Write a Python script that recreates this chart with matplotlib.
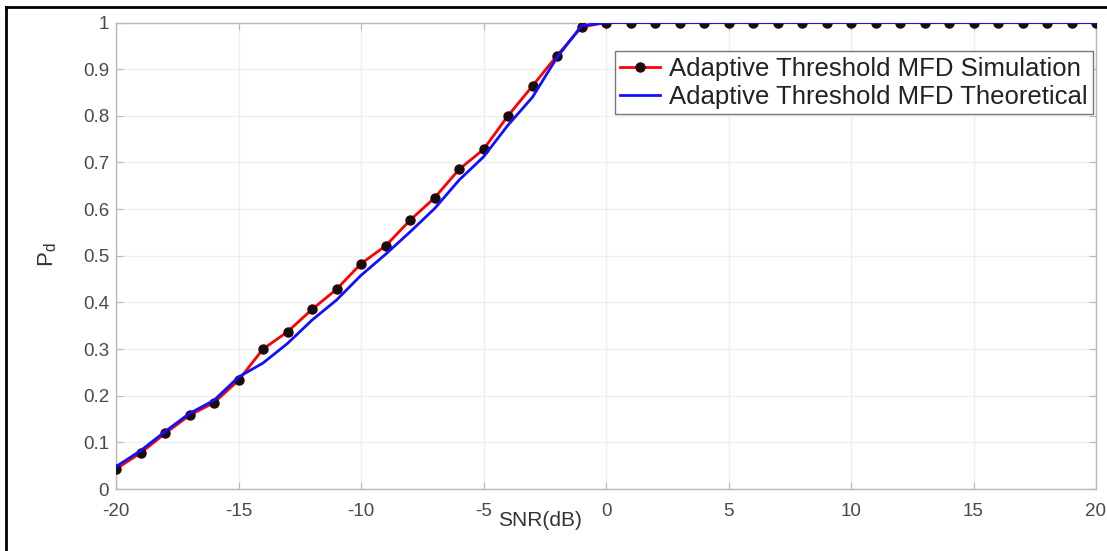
import matplotlib
matplotlib.use("Agg")
import matplotlib.pyplot as plt
from matplotlib.lines import Line2D
import numpy as np

plt.rcParams['font.family'] = ['Liberation Sans', 'DejaVu Sans']
plt.rcParams['mathtext.fontset'] = 'custom'
plt.rcParams['mathtext.rm'] = 'Liberation Sans'
plt.rcParams['mathtext.it'] = 'Liberation Sans:italic'

snr_db = list(range(-20, 21))
pd_simulation = [0.043, 0.077, 0.119, 0.158, 0.185, 0.233, 0.300, 0.337, 0.385, 0.428,
                 0.483, 0.521, 0.576, 0.624, 0.685, 0.728, 0.800, 0.864, 0.929, 0.990,
                 1.0, 1.0, 1.0, 1.0, 1.0, 1.0, 1.0, 1.0, 1.0, 1.0,
                 1.0, 1.0, 1.0, 1.0, 1.0, 1.0, 1.0, 1.0, 1.0, 1.0, 1.0]
pd_theoretical = [0.048, 0.082, 0.123, 0.162, 0.190, 0.240, 0.270, 0.312, 0.362, 0.405,
                  0.458, 0.503, 0.551, 0.601, 0.662, 0.712, 0.780, 0.840, 0.925, 0.993,
                  1.0, 1.0, 1.0, 1.0, 1.0, 1.0, 1.0, 1.0, 1.0, 1.0,
                  1.0, 1.0, 1.0, 1.0, 1.0, 1.0, 1.0, 1.0, 1.0, 1.0, 1.0]
x_ticks = [-20, -15, -10, -5, 0, 5, 10, 15, 20]
y_ticks = [0, 0.1, 0.2, 0.3, 0.4, 0.5, 0.6, 0.7, 0.8, 0.9, 1]
y_tick_labels = ['0', '0.1', '0.2', '0.3', '0.4', '0.5', '0.6', '0.7', '0.8', '0.9', '1']
labels = ['Adaptive Threshold MFD Simulation', 'Adaptive Threshold MFD Theoretical']

W, H = 1107, 551
fig = plt.figure(figsize=(W / 100, H / 100), dpi=100)
ax = fig.add_axes([116 / W, 1 - 489 / H, (1096 - 116) / W, (489 - 22.5) / H])

ax.plot(snr_db, pd_simulation, color='#ff0000', lw=2, marker='o', ms=6.5,
        mfc='#111111', mec='#3a0000', label=labels[0], zorder=3)
ax.plot(snr_db, pd_theoretical, color='#1010ff', lw=2, label=labels[1], zorder=4)

ax.set_xlim(-20, 20)
ax.set_ylim(0, 1)
ax.set_xticks(x_ticks)
ax.set_xticklabels([str(t) for t in x_ticks])
ax.set_yticks(y_ticks)
ax.set_yticklabels(y_tick_labels)
ax.grid(True, color='#efefef', lw=1)
ax.set_axisbelow(True)
for s in ax.spines.values():
    s.set_color('#b8b8b8')
    s.set_linewidth(1)
ax.tick_params(direction='in', length=5, color='#b8b8b8', labelcolor='#4a4a4a',
               labelsize=13.5, right=True, top=True)
ax.tick_params(axis='x', pad=10)
ax.tick_params(axis='y', pad=5)

ax.set_xlabel('SNR(dB)', fontsize=15, color='#333333')
ax.xaxis.set_label_coords((540 - 116) / (1096 - 116), -(521 - 489) / (489 - 22.5))
ax.xaxis.label.set_va('center')
ax.set_ylabel('P$_\\mathrm{d}$', fontsize=16, color='#333333')
ax.yaxis.set_label_coords(-(116 - 48) / (1096 - 116), (489 - 255) / (489 - 22.5))
ax.yaxis.label.set_va('center')

leg = ax.legend(loc='upper right', bbox_to_anchor=(1093 / W, 1 - 51 / H),
                bbox_transform=fig.transFigure, borderaxespad=0, fontsize=18.5,
                handlelength=1.55, handletextpad=0.33, labelspacing=0.15,
                borderpad=0.22, fancybox=False, framealpha=1)
leg.get_frame().set_edgecolor('#777777')
leg.get_frame().set_linewidth(1)
for t in leg.get_texts():
    t.set_color('#222222')

fig.add_artist(Line2D([6 / W, 6 / W], [0, 1 - 7 / H], transform=fig.transFigure,
                      color='black', lw=2))
fig.add_artist(Line2D([6 / W, 1], [1 - 7 / H, 1 - 7 / H], transform=fig.transFigure,
                      color='black', lw=2))

fig.savefig('out.png', dpi=100)
